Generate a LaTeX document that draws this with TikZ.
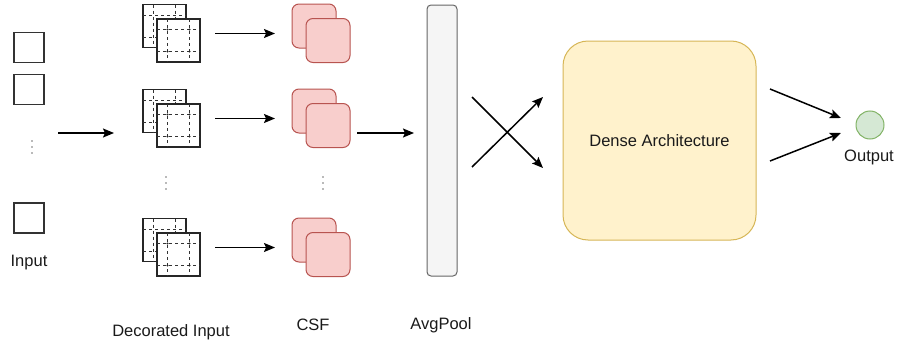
\documentclass[tikz,border=0pt]{standalone}
\usepackage{fontspec}
\setmainfont{Liberation Sans}
\usetikzlibrary{arrows.meta,calc}
\definecolor{csffill}{HTML}{F8CECC}
\definecolor{csfdraw}{HTML}{B85450}
\definecolor{poolfill}{HTML}{F5F5F5}
\definecolor{pooldraw}{HTML}{666666}
\definecolor{densefill}{HTML}{FFF2CC}
\definecolor{densedraw}{HTML}{D6B656}
\definecolor{outfill}{HTML}{D5E8D4}
\definecolor{outdraw}{HTML}{82B366}
\definecolor{txt}{HTML}{1A1A1A}
\begin{document}
\begin{tikzpicture}[x=1pt,y=-1pt,
  font=\fontsize{16.5}{19}\selectfont, text=txt,
  inbox/.style={draw=black!80,line width=1.4pt,fill=white,minimum size=30pt,inner sep=0pt},
  decsq/.style={draw=black!85,line width=1.5pt,fill=white,minimum size=43pt,inner sep=0pt},
  decline/.style={line width=1pt,draw=black!80,dash pattern=on 3pt off 3pt},
  csfsq/.style={draw=csfdraw,line width=1pt,fill=csffill,rounded corners=7pt,minimum size=44pt,inner sep=0pt},
  arr/.style={-{Stealth[length=11pt,width=9pt,inset=2pt]},line width=1.5pt,draw=black},
  lbl/.style={inner sep=0pt,anchor=center},
  dotm/.style={fill=black!55,draw=none,circle,inner sep=0pt,minimum size=1.8pt}]
\useasboundingbox (0,0) rectangle (898,348);

% Input boxes
\node[inbox] (in1) at (29,47.5) {};
\node[inbox] (in2) at (29,89.5) {};
\node[inbox] (in3) at (29,218) {};
\node[lbl] (inlbl) at (29,263) {Input};
\foreach \yy [count=\k] in {141,147,153} \node[dotm] (indot\k) at (32,\yy) {};

% Input -> decorated
\coordinate (a0s) at (58,133);
\coordinate (a0e) at (114,133);
\draw[arr] (a0s) -- (a0e);

% Decorated inputs
\foreach \yy [count=\i] in {26,111,240}{
  \node[decsq] (d\i b) at (164.5,\yy) {};
  \begin{scope}[shift={(d\i b.center)}]
    \draw[decline] (-21.5,-11) -- (21.5,-11);
    \draw[decline] (-21.5,11) -- (21.5,11);
    \draw[decline] (-11,-21.5) -- (-11,21.5);
    \draw[decline] (11,-21.5) -- (11,21.5);
  \end{scope}
  \node[decsq] (d\i f) at (178.5,\yy+14.5) {};
  \begin{scope}[shift={(d\i f.center)}]
    \draw[decline] (-21.5,-11) -- (21.5,-11);
    \draw[decline] (-21.5,11) -- (21.5,11);
    \draw[decline] (-11,-21.5) -- (-11,21.5);
    \draw[decline] (11,-21.5) -- (11,21.5);
    \foreach \px in {-11,11} \foreach \py in {-11,11}
      \fill[black!85] (\px,\py) circle (1.2pt);
  \end{scope}
  % CSF
  \node[csfsq] (c\i b) at (314,\yy) {};
  \node[csfsq] (c\i f) at (328,\yy+14.5) {};
  % arrow decorated -> CSF
  \coordinate (ds\i) at (215,\yy+7.5);
  \coordinate (de\i) at (275,\yy+7.5);
  \draw[arr] (ds\i) -- (de\i);
}
\foreach \yy [count=\k] in {177,183,189} \node[dotm] (ddot\k) at (166,\yy) {};
\foreach \yy [count=\k] in {177,183,189} \node[dotm] (cdot\k) at (323,\yy) {};

\node[lbl] (declbl) at (171,332) {Decorated Input};
\node[lbl] (csflbl) at (313,325) {CSF};

% CSF -> AvgPool
\coordinate (ps) at (357,133);
\coordinate (pe) at (414,133);
\draw[arr] (ps) -- (pe);

% AvgPool
\node[draw=pooldraw,fill=poolfill,line width=1pt,rounded corners=4pt,
      minimum width=30pt,minimum height=271pt,inner sep=0pt] (pool) at (442,140.5) {};
\node[lbl] (poollbl) at (441,325) {AvgPool};

% cross arrows
\coordinate (x1s) at (472,97);
\coordinate (x1e) at (543,168);
\coordinate (x2s) at (472,167);
\coordinate (x2e) at (543,97);
\draw[arr] (x1s) -- (x1e);
\draw[arr] (x2s) -- (x2e);

% Dense
\node[draw=densedraw,fill=densefill,line width=1pt,rounded corners=25pt,
      minimum width=193pt,minimum height=199pt,inner sep=0pt] (dense) at (659.5,140.5) {Dense Architecture};

% Output arrows
\coordinate (o1s) at (770,89);
\coordinate (o1e) at (841,118);
\coordinate (o2s) at (770,161);
\coordinate (o2e) at (841,133);
\draw[arr] (o1s) -- (o1e);
\draw[arr] (o2s) -- (o2e);

\node[circle,draw=outdraw,fill=outfill,line width=1pt,minimum size=28pt,inner sep=0pt] (out) at (870,125) {};
\node[lbl] (outlbl) at (869,157) {Output};
\end{tikzpicture}
\end{document}
